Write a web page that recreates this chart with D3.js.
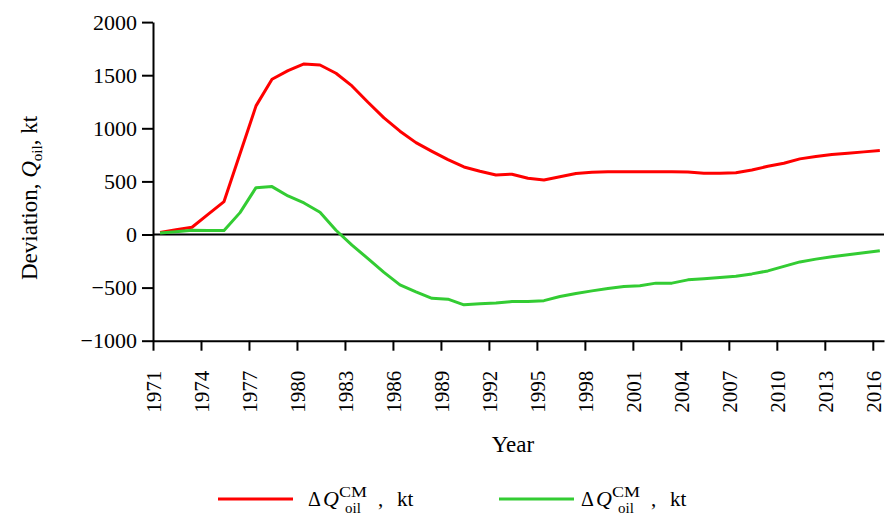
<!DOCTYPE html>
<html>
<head>
<meta charset="utf-8">
<script src="https://cdn.jsdelivr.net/npm/d3@7"></script>
<style>
  html, body { margin: 0; padding: 0; background: #fff; }
  svg { display: block; font-family: "Liberation Serif", "Times New Roman", serif; }
</style>
</head>
<body>
<svg id="chart" width="885" height="516"></svg>
<script>
// Annual deviations of oil production, kt (values are mid-year)
const years = d3.range(1971, 2017);
const redValues = [
  20, 45, 68, 189, 310, 760, 1211, 1462, 1543, 1606,
  1596, 1518, 1399, 1245, 1098, 973, 865, 783, 705, 636,
  596, 561, 568, 530, 514, 543, 575, 586, 592, 592,
  592, 592, 592, 589, 577, 577, 581, 608, 642, 671,
  712, 734, 754, 766, 778, 791
];
const greenValues = [
  15, 26, 39, 38, 37, 206, 441, 451, 363, 297,
  210, 40, -100, -227, -356, -474, -540, -601, -609, -662,
  -653, -646, -632, -632, -623, -584, -555, -531, -509, -489,
  -483, -458, -458, -427, -416, -406, -394, -371, -343, -300,
  -258, -232, -209, -191, -172, -152
];
const yTicks = [-1000, -500, 0, 500, 1000, 1500, 2000];
const xTicks = d3.range(1971, 2017, 3);
const seriesColors = ["#ff0000", "#33cc33"];

const MID_YEAR = 0.44;
const svg = d3.select("#chart");

const x = d3.scaleLinear().domain([1971, 2016.7]).range([153, 884]);
const y = d3.scaleLinear().domain([-1000, 2000]).range([340.7, 22.1]);

const fmt = d => d < 0 ? "\u2212" + Math.abs(d) : String(d);

// Y axis
const yAxis = svg.append("g")
  .attr("transform", `translate(${x(1971)},0)`)
  .call(d3.axisLeft(y).tickValues(yTicks).tickSize(11).tickSizeOuter(0).tickPadding(5).tickFormat(fmt));
yAxis.select(".domain").attr("stroke", "#000").attr("stroke-width", 2);
yAxis.selectAll(".tick line").attr("stroke", "#000").attr("stroke-width", 2);
yAxis.selectAll(".tick text").attr("font-size", 22).attr("fill", "#000")
  .attr("font-family", "Liberation Serif");

// X axis
const xAxis = svg.append("g")
  .attr("transform", `translate(0,${y(-1000)})`)
  .call(d3.axisBottom(x).tickValues(xTicks).tickSize(10).tickSizeOuter(0).tickFormat(d3.format("d")));
xAxis.select(".domain").attr("stroke", "#000").attr("stroke-width", 2);
xAxis.selectAll(".tick line").attr("stroke", "#000").attr("stroke-width", 2);
xAxis.selectAll(".tick text")
  .attr("font-size", 21).attr("fill", "#000").attr("font-family", "Liberation Serif")
  .attr("transform", "rotate(-90)")
  .attr("text-anchor", "end")
  .attr("x", -30).attr("y", 0).attr("dy", "0.35em");

// Zero line
svg.append("line")
  .attr("x1", x(1971)).attr("x2", x.range()[1])
  .attr("y1", y(0)).attr("y2", y(0))
  .attr("stroke", "#000").attr("stroke-width", 2);

// Series lines
const line = d3.line()
  .x((d, i) => x(years[i] + MID_YEAR))
  .y(d => y(d));

[redValues, greenValues].forEach((vals, i) => {
  svg.append("path")
    .datum(vals)
    .attr("fill", "none")
    .attr("stroke", seriesColors[i])
    .attr("stroke-width", 3)
    .attr("stroke-linejoin", "round")
    .attr("d", line);
});

// Axis titles
svg.append("text")
  .attr("x", 513).attr("y", 452)
  .attr("text-anchor", "middle")
  .attr("font-size", 23)
  .text("Year");

const yTitle = svg.append("text")
  .attr("transform", "translate(37,198) rotate(-90)")
  .attr("text-anchor", "middle")
  .attr("font-size", 23);
yTitle.append("tspan").text("Deviation, ");
yTitle.append("tspan").attr("font-style", "italic").text("Q");
yTitle.append("tspan").attr("font-size", 15).attr("dy", 5).text("oil");
yTitle.append("tspan").attr("dy", -5).text(", kt");

// Legend
const legendItems = [
  { color: seriesColors[0], lx: 218, tx: 308 },
  { color: seriesColors[1], lx: 499, tx: 581 }
];
legendItems.forEach(item => {
  const g = svg.append("g");
  g.append("line")
    .attr("x1", item.lx).attr("x2", item.lx + 75)
    .attr("y1", 499).attr("y2", 499)
    .attr("stroke", item.color).attr("stroke-width", 3);
  g.append("text").attr("x", item.tx).attr("y", 506).attr("font-size", 20).text("\u0394");
  g.append("text").attr("x", item.tx + 15).attr("y", 506).attr("font-size", 22)
    .attr("font-style", "italic").text("Q");
  g.append("text").attr("x", item.tx + 31).attr("y", 497).attr("font-size", 15)
    .attr("textLength", 28).attr("lengthAdjust", "spacingAndGlyphs").text("CM");
  g.append("text").attr("x", item.tx + 37).attr("y", 513).attr("font-size", 15).text("oil");
  g.append("text").attr("x", item.tx + 70).attr("y", 506).attr("font-size", 21).text(",");
  g.append("text").attr("x", item.tx + 89).attr("y", 506).attr("font-size", 21).text("kt");
});
</script>
</body>
</html>
